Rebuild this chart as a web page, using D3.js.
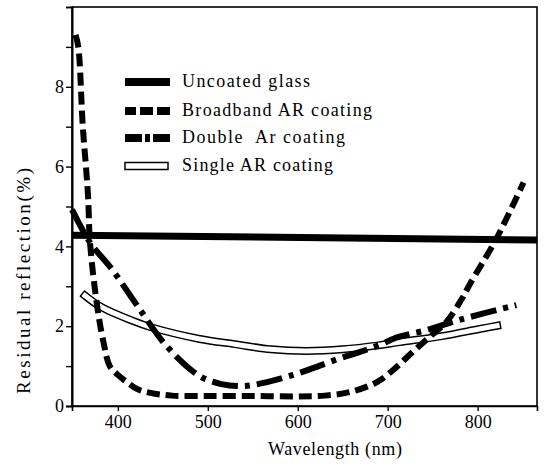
<!DOCTYPE html>
<html>
<head>
<meta charset="utf-8">
<script src="https://cdn.jsdelivr.net/npm/d3@7/dist/d3.min.js"></script>
<style>
  html, body { margin: 0; padding: 0; background: #fff; }
  svg { display: block; }
</style>
</head>
<body>
<svg id="chart" width="544" height="464"></svg>
<script>
// ---- data ----
const seriesNames = ["Uncoated glass", "Broadband AR coating", "Double  Ar coating", "Single AR coating"];

const uncoatedWl = [349, 866];
const uncoatedVal = [4.28, 4.16];

const broadbandWl = [353, 356, 361, 364.5, 367, 369, 377, 384, 391, 400, 410, 422, 436, 460, 500, 550, 600, 630, 658, 688, 710, 728, 745, 765, 782, 791, 821, 851];
const broadbandVal = [9.3, 9.0, 7.0, 6.0, 5.2, 4.1, 2.5, 1.6, 1.0, 0.78, 0.6, 0.42, 0.33, 0.26, 0.25, 0.25, 0.24, 0.26, 0.35, 0.6, 0.98, 1.36, 1.7, 2.1, 2.67, 3.04, 4.2, 5.6];

const doubleWl = [349, 369, 394, 421, 455, 491, 515, 540, 566, 595, 617, 645, 666, 690, 712, 743, 780, 843];
const doubleVal = [4.92, 4.1, 3.41, 2.53, 1.48, 0.75, 0.55, 0.5, 0.6, 0.78, 0.95, 1.18, 1.33, 1.52, 1.73, 1.9, 2.16, 2.53];

const singleWl = [360, 380, 417, 436, 491, 530, 570, 610, 650, 690, 713, 760, 802, 826];
const singleVal = [2.83, 2.5, 2.13, 1.98, 1.68, 1.55, 1.42, 1.38, 1.42, 1.52, 1.6, 1.75, 1.93, 2.03];

const xTicks = [400, 500, 600, 700, 800];
const yTicks = [0, 2, 4, 6, 8];
const yMinorTicks = [1, 3, 5, 7, 9];

// ---- layout ----
const FONT = "'Liberation Serif', monospace";
const svg = d3.select("#chart");
const x = d3.scaleLinear().domain([349, 866]).range([72, 537]);
const y = d3.scaleLinear().domain([0, 10]).range([406, 7]);

const zip = (a, b) => a.map((d, i) => [d, b[i]]);
const line = d3.line().x(d => x(d[0])).y(d => y(d[1])).curve(d3.curveCatmullRom.alpha(0.5));

// frame
svg.append("rect")
  .attr("x", x.range()[0]).attr("y", y.range()[1])
  .attr("width", x.range()[1] - x.range()[0])
  .attr("height", y.range()[0] - y.range()[1])
  .attr("fill", "none").attr("stroke", "#000").attr("stroke-width", 1.6);

// axes
svg.append("g").attr("transform", `translate(${x.range()[0]},0)`)
  .call(d3.axisLeft(y).tickValues(yTicks).tickSize(6).tickPadding(2).tickFormat(d3.format("d")));
svg.append("g").attr("transform", `translate(${x.range()[0]},0)`)
  .call(d3.axisLeft(y).tickValues(yMinorTicks).tickSize(6).tickFormat(""));
svg.append("g").attr("transform", `translate(0,${y.range()[0]})`)
  .call(d3.axisBottom(x).tickValues(xTicks).tickSize(5).tickPadding(4).tickFormat(d3.format("d")));

svg.selectAll("g").attr("font-family", FONT).attr("font-size", 18);
svg.selectAll(".domain").attr("stroke-width", 1.6);
svg.selectAll(".tick line").attr("stroke-width", 1.4);
svg.selectAll(".tick text").attr("font-family", FONT).attr("font-size", 18).attr("fill", "#000");

// axis titles
svg.append("text")
  .attr("x", 335).attr("y", 455)
  .attr("text-anchor", "middle")
  .attr("font-family", FONT).attr("font-size", 18)
  .attr("textLength", 134).attr("lengthAdjust", "spacing")
  .text("Wavelength (nm)");

svg.append("text")
  .attr("transform", "translate(30,281) rotate(-90)")
  .attr("text-anchor", "middle")
  .attr("font-family", FONT).attr("font-size", 19)
  .attr("textLength", 226).attr("lengthAdjust", "spacing")
  .text("Residual reflection(%)");

// ---- series ----
// uncoated glass
svg.append("path").datum(zip(uncoatedWl, uncoatedVal))
  .attr("d", d3.line().x(d => x(d[0])).y(d => y(d[1])))
  .attr("fill", "none").attr("stroke", "#000").attr("stroke-width", 7);

// single AR (hollow band)
const singleData = zip(singleWl, singleVal);
svg.append("path").datum(singleData)
  .attr("d", line).attr("fill", "none").attr("stroke", "#000").attr("stroke-width", 8);
const inner = svg.append("path").datum(singleData)
  .attr("d", line).attr("fill", "none").attr("stroke", "#fff").attr("stroke-width", 5);
const L = inner.node().getTotalLength();
inner.attr("stroke-dasharray", `0,1.6,${L - 3.2},100`);

// double AR (dash-dot)
svg.append("path").datum(zip(doubleWl, doubleVal))
  .attr("d", line).attr("fill", "none").attr("stroke", "#000").attr("stroke-width", 6)
  .attr("stroke-dasharray", "26,7,5,7");

// broadband (dashed)
svg.append("path").datum(zip(broadbandWl, broadbandVal))
  .attr("d", line).attr("fill", "none").attr("stroke", "#000").attr("stroke-width", 6)
  .attr("stroke-dasharray", "13,6");

// ---- legend ----
const legY = [82, 111, 138, 166];
const legX0 = 125, legX1 = 170;
const leg = svg.append("g");
leg.append("line").attr("x1", legX0).attr("x2", legX1).attr("y1", legY[0]).attr("y2", legY[0])
  .attr("stroke", "#000").attr("stroke-width", 8);
leg.append("line").attr("x1", legX0).attr("x2", legX1).attr("y1", legY[1]).attr("y2", legY[1])
  .attr("stroke", "#000").attr("stroke-width", 8).attr("stroke-dasharray", "11,4,13,4,13");
leg.append("line").attr("x1", legX0).attr("x2", legX1).attr("y1", legY[2]).attr("y2", legY[2])
  .attr("stroke", "#000").attr("stroke-width", 8).attr("stroke-dasharray", "17,3,5,3,17");
leg.append("rect").attr("x", legX0).attr("y", legY[3] - 3.5).attr("width", legX1 - legX0 - 2).attr("height", 7)
  .attr("fill", "#fff").attr("stroke", "#000").attr("stroke-width", 1.5);

const legWidths = [128, 190, 163, 151];
leg.selectAll("text.leg").data(seriesNames).enter().append("text")
  .attr("class", "leg")
  .attr("x", 182)
  .attr("y", (d, i) => legY[i] + 5)
  .attr("font-family", FONT).attr("font-size", 18)
  .attr("textLength", (d, i) => legWidths[i]).attr("lengthAdjust", "spacing")
  .style("white-space", "pre")
  .text(d => d);
</script>
</body>
</html>
